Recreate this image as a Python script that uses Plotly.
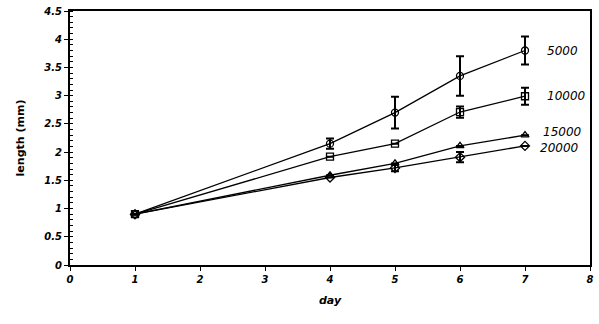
import plotly.graph_objects as go

# Growth in length over time at four densities
days = [1, 4, 5, 6, 7]
series_names = ["5000", "10000", "15000", "20000"]
len_5000 = [0.9, 2.15, 2.70, 3.35, 3.80]
err_5000 = [0.0, 0.09, 0.28, 0.35, 0.25]
len_10000 = [0.9, 1.92, 2.15, 2.71, 2.99]
err_10000 = [0.0, 0.0, 0.0, 0.10, 0.15]
len_15000 = [0.9, 1.59, 1.80, 2.11, 2.30]
err_15000 = [0.0, 0.0, 0.0, 0.0, 0.0]
len_20000 = [0.9, 1.55, 1.72, 1.91, 2.11]
err_20000 = [0.0, 0.0, 0.06, 0.09, 0.0]

x_ticks = [0, 1, 2, 3, 4, 5, 6, 7, 8]
y_ticks = [0, 0.5, 1, 1.5, 2, 2.5, 3, 3.5, 4, 4.5]
y_tick_text = ["0", "0.5", "1", "1.5", "2", "2.5", "3", "3.5", "4", "4.5"]

values = [len_5000, len_10000, len_15000, len_20000]
errors = [err_5000, err_10000, err_15000, err_20000]
symbols = ["circle-open", "square-open", "triangle-up-open", "diamond-open"]
label_x = [7.3, 7.3, 7.25, 7.2]
label_offsets = [0.0, 0.0, 0.06, -0.04]

font_family = "DejaVu Sans"

fig = go.Figure()
for name, ys, es, sym in zip(series_names, values, errors, symbols):
    fig.add_trace(go.Scatter(
        x=days, y=ys, name=name, mode="lines+markers",
        line=dict(color="black", width=1.3),
        marker=dict(symbol=sym, size=7, color="black", line=dict(width=1.3, color="black")),
        error_y=dict(type="data", array=es, visible=True, color="black",
                     thickness=2, width=4),
        showlegend=False,
    ))

for name, ys, lx, off in zip(series_names, values, label_x, label_offsets):
    fig.add_annotation(x=lx, y=ys[-1] + off, text=name, showarrow=False,
                       xanchor="left", yanchor="middle",
                       font=dict(family=font_family, size=12, color="black", style="italic"))

axis_common = dict(
    showline=True, linecolor="black", linewidth=2, mirror=True,
    showgrid=False, zeroline=False,
    ticks="outside", ticklen=4, tickwidth=1, tickcolor="black",
    tickfont=dict(family=font_family, size=10, color="black", weight="bold", style="italic"),
)

fig.update_xaxes(range=[0, 8], tickvals=x_ticks, **axis_common,
                 title=dict(text="day", standoff=12,
                            font=dict(family=font_family, size=11, color="black", weight="bold", style="italic")))
fig.update_yaxes(range=[0, 4.5], tickvals=y_ticks, ticktext=y_tick_text, **axis_common,
                 minor=dict(ticks="inside", ticklen=3, tickcolor="black", dtick=0.1),
                 title=dict(text="length (mm)", standoff=16,
                            font=dict(family=font_family, size=11, color="black", weight="bold")))

fig.update_layout(
    width=599, height=324,
    margin=dict(l=70, r=6, t=5, b=59),
    paper_bgcolor="white", plot_bgcolor="white",
)

fig.write_html("out.html")
